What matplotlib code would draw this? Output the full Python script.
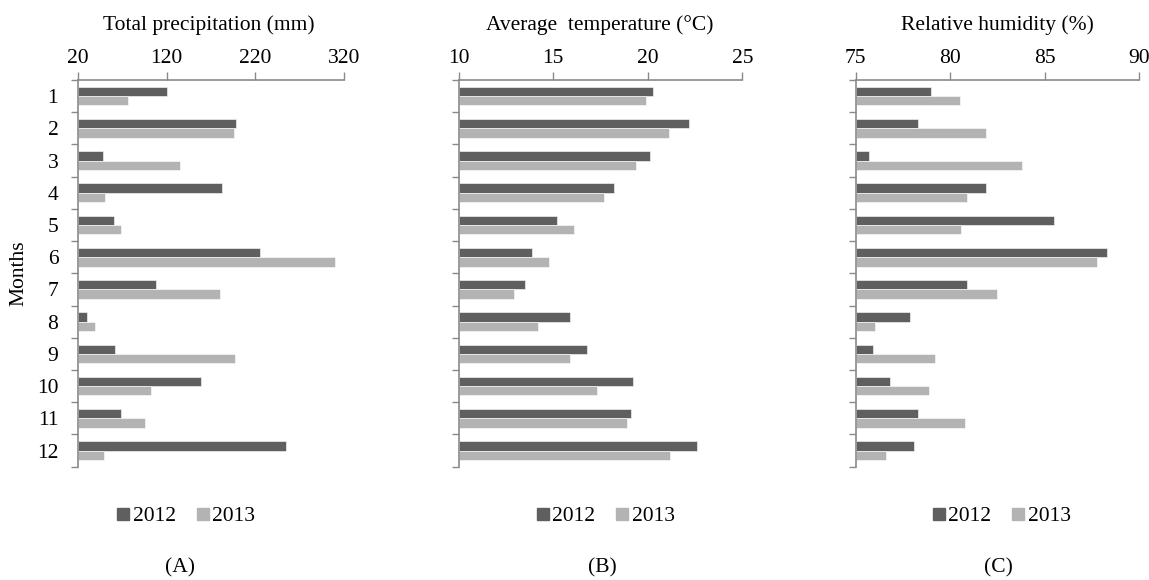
import matplotlib
matplotlib.use("Agg")
import matplotlib.pyplot as plt
from matplotlib.lines import Line2D
import numpy as np

plt.rcParams['font.family'] = ['Liberation Serif', 'DejaVu Serif']

months = [str(m) for m in range(1, 13)]
series_labels = ["2012", "2013"]

precip_2012 = [120, 198, 48, 182, 61, 225, 108, 31, 62, 159, 69, 254]
precip_2013 = [77, 196, 135, 51, 69, 309, 180, 39, 197, 103, 96, 50]

temp_2012 = [20.3, 22.2, 20.1, 18.2, 15.2, 13.9, 13.5, 15.9, 16.8, 19.2, 19.1, 22.6]
temp_2013 = [19.9, 21.1, 19.4, 17.7, 16.1, 14.8, 12.9, 14.2, 15.9, 17.3, 18.9, 21.2]

hum_2012 = [79.0, 78.3, 75.7, 81.9, 85.5, 88.3, 80.9, 77.9, 75.9, 76.8, 78.3, 78.1]
hum_2013 = [80.5, 81.9, 83.8, 80.9, 80.6, 87.8, 82.5, 76.0, 79.2, 78.9, 80.8, 76.6]

titles = ["Total precipitation (mm)", "Average  temperature (\u00b0C)", "Relative humidity (%)"]
xlims = [(20, 320), (10, 25), (75, 90)]
xticks = [[20, 120, 220, 320], [10, 15, 20, 25], [75, 80, 85, 90]]
panel_labels = ["(A)", "(B)", "(C)"]

dark = "#5f5f5f"
light = "#b3b3b3"
spine_c = "#8a8a8a"

W, H = 1149, 580
fig = plt.figure(figsize=(W / 100, H / 100), dpi=100)

axes_px = [(77.7, 344.3), (458.7, 742.3), (855.7, 1139.0)]
top_px, bot_px = 80.0, 466.7
title_cx = [209, 600, 997]
legend_cx = [184.5, 604, 1000]
label_cx = [180, 602, 998]

data = [(precip_2012, precip_2013), (temp_2012, temp_2013), (hum_2012, hum_2013)]

y = np.arange(len(months))
bh = 0.29
fs = 15.5

for i, ((l, r), (s1, s2)) in enumerate(zip(axes_px, data)):
    ax = fig.add_axes([l / W, 1 - bot_px / H, (r - l) / W, (bot_px - top_px) / H])
    lo = xlims[i][0]
    ax.barh(y - bh / 2, np.array(s1) - lo, left=lo, height=bh, color=dark,
            edgecolor="white", linewidth=0.4)
    ax.barh(y + bh / 2, np.array(s2) - lo, left=lo, height=bh, color=light,
            edgecolor="white", linewidth=0.4)
    ax.set_xlim(*xlims[i])
    ax.set_ylim(len(months) - 0.5, -0.5)
    ax.xaxis.tick_top()
    ax.set_xticks(xticks[i])
    ax.set_xticklabels([str(t) for t in xticks[i]], fontsize=fs)
    ax.tick_params(axis='x', direction='out', length=5.8, width=1, color=spine_c, pad=3)
    fig.text(title_cx[i] / W, 1 - 25 / H, titles[i], ha='center', va='center', fontsize=fs)
    ax.set_yticks(np.arange(-0.5, len(months), 1.0))
    ax.set_yticklabels([])
    ax.set_yticks(y, minor=True)
    if i == 0:
        ax.set_yticklabels(months, minor=True, fontsize=fs)
        ax.set_ylabel("Months", fontsize=fs)
        ax.yaxis.set_label_coords((28 - l) / (r - l), 0.5)
    else:
        ax.set_yticklabels([], minor=True)
    ax.tick_params(axis='y', which='major', direction='out', length=5, width=1, color=spine_c)
    ax.tick_params(axis='y', which='minor', length=0, pad=14)
    for side in ['right', 'bottom']:
        ax.spines[side].set_visible(False)
    for side in ['top', 'left']:
        ax.spines[side].set_color(spine_c)
        ax.spines[side].set_linewidth(1.2)

    handles = [Line2D([], [], marker='s', linestyle='none', markersize=8,
                      markerfacecolor=c, markeredgecolor=c) for c in (dark, light)]
    fig.legend(handles, series_labels, loc='center', ncol=2, frameon=False,
               fontsize=fs, handletextpad=0.0, columnspacing=0.8, handlelength=0.9,
               bbox_to_anchor=(legend_cx[i] / W, 1 - 516 / H))
    fig.text(label_cx[i] / W, 1 - 568 / H, panel_labels[i], ha='center', va='center',
             fontsize=fs)

fig.savefig("out.png", dpi=100)
